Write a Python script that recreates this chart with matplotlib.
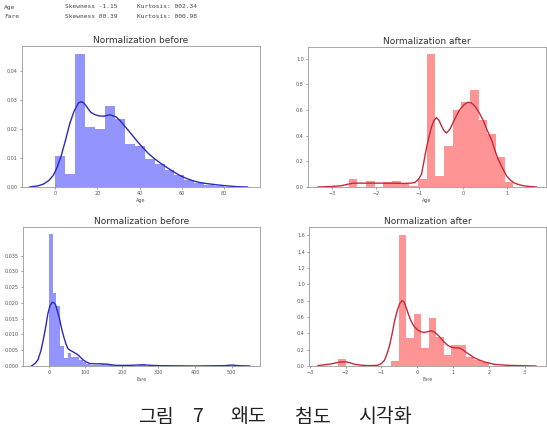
import numpy as np
import matplotlib
matplotlib.use("Agg")
import matplotlib.pyplot as plt

plt.rcParams['font.family'] = ['DejaVu Sans']

# --- stats text ---
stat_names = ["Age", "Fare"]
stat_skew = ["-1.15", "00.39"]
stat_kurt = ["002.34", "000.98"]

# --- Age, before ---
age_edges = np.linspace(0, 80, 18)
age_heights = [0.0106, 0.0044, 0.046, 0.0208, 0.0201, 0.028, 0.0237, 0.015, 0.0141,
               0.0098, 0.0081, 0.0058, 0.004, 0.0025, 0.0015, 0.0008, 0.0004]
age_kde_x = [-12, -8, -5.5, -3, -0.8, 1, 3, 5, 7, 9, 11, 12.2, 13.4, 14.5, 15.7, 17, 19,
             21, 23, 26, 29, 31, 33, 35, 37, 39, 41.7, 44, 47, 50, 52.8, 56, 59, 62, 65,
             68, 71.6, 76, 81, 86, 91]
age_kde_y = [0, 0.0004, 0.001, 0.0022, 0.004, 0.0068, 0.011, 0.0163, 0.022, 0.0262, 0.029,
             0.0295, 0.0292, 0.0283, 0.027, 0.0258, 0.025, 0.0246, 0.0245, 0.025, 0.0242,
             0.0228, 0.021, 0.0193, 0.0175, 0.0157, 0.0135, 0.0117, 0.0098, 0.0082, 0.0068,
             0.0053, 0.004, 0.003, 0.0022, 0.0016, 0.0012, 0.0008, 0.0004, 0.0001, 0]

# --- Age, after ---
agen_edges = np.linspace(-2.62, 1.15, 20)
agen_heights = [0.065, 0, 0.047, 0, 0.04, 0.047, 0.034, 0.005, 0.065, 1.034, 0.083,
                0.317, 0.597, 0.662, 0.758, 0.519, 0.416, 0.234, 0.04]
agen_kde_x = [-3.32, -3.0, -2.79, -2.52, -2.25, -2.0, -1.79, -1.55, -1.34, -1.2, -1.1, -1.02,
              -0.95, -0.9, -0.84, -0.78, -0.72, -0.66, -0.61, -0.55, -0.5, -0.44, -0.38,
              -0.3, -0.23, -0.15, -0.08, 0.02, 0.11, 0.19, 0.27, 0.36, 0.46, 0.55, 0.65,
              0.72, 0.8, 0.9, 0.99, 1.08, 1.18, 1.3, 1.41, 1.55, 1.68]
agen_kde_y = [0, 0.004, 0.01, 0.03, 0.03, 0.03, 0.03, 0.029, 0.028, 0.03, 0.035, 0.06,
              0.1, 0.19, 0.3, 0.39, 0.47, 0.52, 0.54, 0.52, 0.48, 0.44, 0.42, 0.45, 0.5,
              0.555, 0.6, 0.64, 0.66, 0.655, 0.63, 0.585, 0.52, 0.445, 0.37, 0.295, 0.22,
              0.15, 0.09, 0.055, 0.03, 0.016, 0.008, 0.003, 0]

# --- Fare, before ---
fare_edges = np.linspace(0, 512.33, 51)
fare_heights = [0.042, 0.0232, 0.0189, 0.0062, 0.0024, 0.004, 0.003, 0.003, 0.0019, 0.0014,
                0.0005, 0.0004, 0.0003, 0.0003, 0.0007, 0.0004, 0.0002, 0.0001, 0.0001, 0.0001,
                0.0002, 0.0001, 0.0001, 0.0001, 0.0003, 0.0002, 0, 0, 0, 0,
                0, 0, 0, 0, 0, 0, 0, 0, 0, 0,
                0, 0, 0, 0, 0, 0, 0, 0, 0, 0.0003]
fare_kde_x = [-48, -38, -30, -22, -16, -9, -3, 3, 9, 13, 18, 23, 29, 34, 40, 46, 52, 59, 66,
              73, 80, 86, 93, 102, 111, 125, 139, 157, 170, 185, 200, 220, 240, 258, 280,
              303, 400, 480, 500, 520, 550]
fare_kde_y = [0, 0.0008, 0.002, 0.0048, 0.008, 0.0123, 0.0165, 0.0192, 0.0202, 0.0201,
              0.0195, 0.0175, 0.015, 0.0122, 0.0095, 0.0072, 0.0055, 0.0049, 0.0045, 0.004,
              0.0035, 0.0028, 0.002, 0.0013, 0.0008, 0.0007, 0.0007, 0.0006, 0.0004, 0.0002,
              0.0002, 0.0002, 0.0003, 0.0004, 0.0002, 0.0001, 0, 0.0001, 0.0003, 0.0001, 0]

# --- Fare, after ---
faren_edges = np.linspace(-2.2, 2.0, 21)
faren_heights = [0.089, 0, 0, 0, 0, 0, 0, 0.065, 1.606, 0.337, 0.642, 0.215, 0.581,
                 0.358, 0.134, 0.256, 0.256, 0.114, 0.073, 0.05]
faren_kde_x = [-2.77, -2.4, -2.25, -2.12, -1.98, -1.86, -1.74, -1.55, -1.37, -1.2, -1.09,
               -1.0, -0.91, -0.84, -0.77, -0.7, -0.63, -0.56, -0.49, -0.42, -0.36, -0.31,
               -0.24, -0.17, -0.08, 0.02, 0.1, 0.2, 0.3, 0.39, 0.48, 0.58, 0.67, 0.76, 0.85,
               0.95, 1.06, 1.18, 1.27, 1.36, 1.48, 1.6, 1.74, 1.88, 2.16, 2.53, 3.32]
faren_kde_y = [0.005, 0.025, 0.04, 0.05, 0.05, 0.038, 0.02, 0.009, 0.005, 0.006, 0.01,
               0.03, 0.07, 0.15, 0.25, 0.39, 0.55, 0.67, 0.76, 0.8, 0.78, 0.72, 0.63, 0.55,
               0.48, 0.44, 0.42, 0.41, 0.42, 0.43, 0.415, 0.38, 0.335, 0.29, 0.255, 0.23,
               0.222, 0.22, 0.2, 0.17, 0.135, 0.1, 0.073, 0.05, 0.02, 0.008, 0]

W, H = 547, 428
fig = plt.figure(figsize=(W / 100, H / 100), dpi=100)


def px_axes(left, top, right, bottom):
    return fig.add_axes([left / W, 1 - bottom / H, (right - left) / W, (bottom - top) / H])


def draw(ax, edges, heights, kx, ky, bar_c, line_c, title, xlabel, xlim, ylim, xticks, yticks, yfmt):
    edges = np.asarray(edges)
    ax.bar(edges[:-1], heights, width=np.diff(edges), align='edge', color=bar_c,
           alpha=0.42, linewidth=0)
    ax.plot(kx, ky, color=line_c, lw=1.0)
    ax.set_xlim(*xlim)
    ax.set_ylim(*ylim)
    ax.set_xticks(xticks)
    ax.set_yticks(yticks)
    ax.set_yticklabels([yfmt.format(v) for v in yticks])
    ax.tick_params(labelsize=3.5, length=1.5, width=0.4, pad=1.5, colors='#555555')
    ax.set_title(title, fontsize=6.5, pad=2.5, color='#333333')
    ax.set_xlabel(xlabel, fontsize=3.5, labelpad=1.5, color='#555555')
    for s in ax.spines.values():
        s.set_color('#999999')
        s.set_linewidth(0.6)


ax1 = px_axes(22, 46, 260, 187)
draw(ax1, age_edges, age_heights, age_kde_x, age_kde_y, 'blue', '#2a2ab8',
     'Normalization before', 'Age', (-15.6, 96.9), (0, 0.0488),
     [0, 20, 40, 60, 80], [0, 0.01, 0.02, 0.03, 0.04], '{:.2f}')

ax2 = px_axes(308, 47, 546, 187)
draw(ax2, agen_edges, agen_heights, agen_kde_x, agen_kde_y, 'red', '#c8283c',
     'Normalization after', 'Age', (-3.55, 1.9), (0, 1.09),
     [-3, -2, -1, 0, 1], [0, 0.2, 0.4, 0.6, 0.8, 1.0], '{:.1f}')

ax3 = px_axes(23, 227, 260, 366)
draw(ax3, fare_edges, fare_heights, fare_kde_x, fare_kde_y, 'blue', '#2a2ab8',
     'Normalization before', 'Fare', (-71, 578), (0, 0.0441),
     [0, 100, 200, 300, 400, 500],
     [0, 0.005, 0.01, 0.015, 0.02, 0.025, 0.03, 0.035], '{:.3f}')

ax4 = px_axes(309, 227, 546, 366)
draw(ax4, faren_edges, faren_heights, faren_kde_x, faren_kde_y, 'red', '#c8283c',
     'Normalization after', 'Fare', (-3.02, 3.6), (0, 1.70),
     [-3, -2, -1, 0, 1, 2, 3],
     [0, 0.2, 0.4, 0.6, 0.8, 1.0, 1.2, 1.4, 1.6], '{:.1f}')

# header text
for i, name in enumerate(stat_names):
    y = 1 - (7 + 10 * i) / H
    fig.text(4 / W, y, name, fontsize=4.5, family='DejaVu Sans Mono', va='center', color='#444444')
    fig.text(65 / W, y, 'Skewness ' + stat_skew[i], fontsize=4.5, family='DejaVu Sans Mono',
             va='center', color='#444444')
    fig.text(137 / W, y, 'Kurtosis: ' + stat_kurt[i], fontsize=4.5, family='DejaVu Sans Mono',
             va='center', color='#444444')

# caption, word by word to keep the wide spacing
caption_words = ['그림', '7', '왜도', '첨도', '시각화']
caption_x = [156, 198, 248, 313, 385]
for word, cx in zip(caption_words, caption_x):
    fig.text(cx / W, 1 - 417 / H, word, fontsize=14, fontweight='light',
             family=['Noto Sans CJK KR', 'DejaVu Sans'], ha='center', va='center',
             color='#222222')

fig.savefig('out.png', dpi=100)
